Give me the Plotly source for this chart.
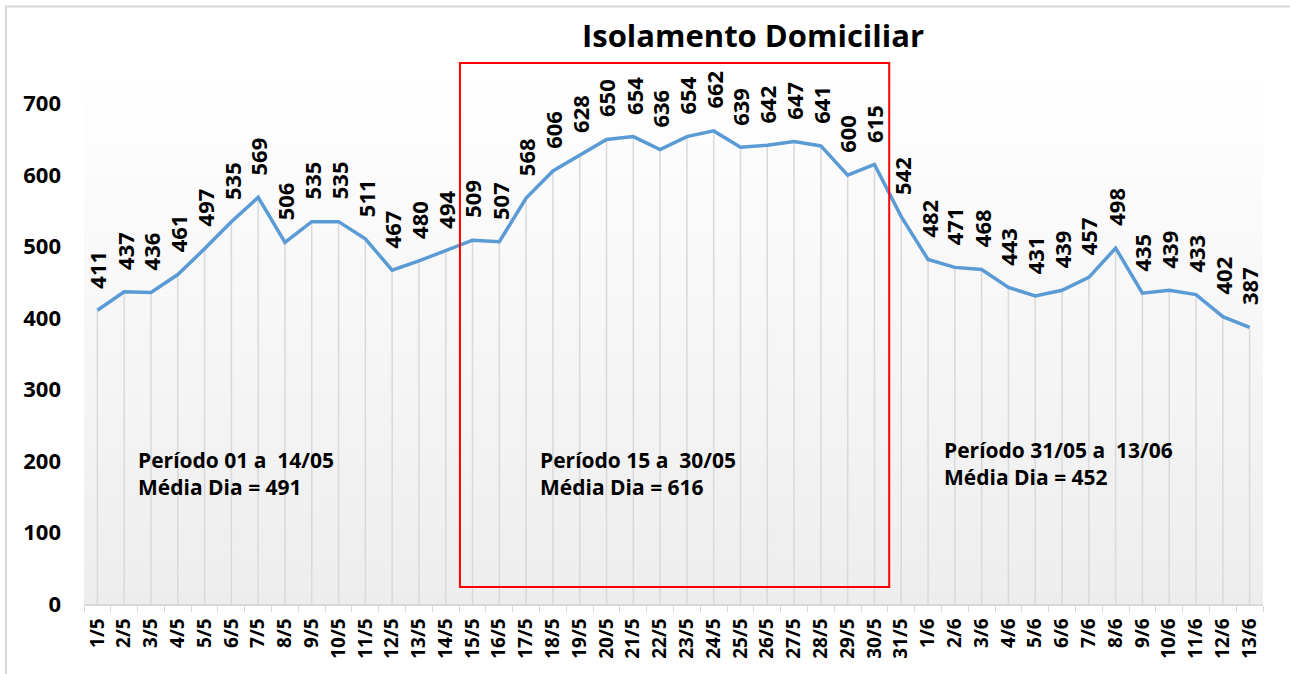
import plotly.graph_objects as go

categories = [f"{d}/5" for d in range(1, 32)] + [f"{d}/6" for d in range(1, 14)]
values = [411, 437, 436, 461, 497, 535, 569, 506, 535, 535, 511, 467, 480, 494,
          509, 507, 568, 606, 628, 650, 654, 636, 654, 662, 639, 642, 647, 641, 600, 615,
          542, 482, 471, 468, 443, 431, 439, 457, 498, 435, 439, 433, 402, 387]
y_ticks = [0, 100, 200, 300, 400, 500, 600, 700]
period_texts = [
    "Período 01 a  14/05<br>Média Dia = 491",
    "Período 15 a  30/05<br>Média Dia = 616",
    "Período 31/05 a  13/06<br>Média Dia = 452",
]

FONT = "Open Sans"
W, H = 1290, 674
PL, PR, PT, PB = 84, 1263, 68, 604
L, T = PL, PT
R = W - PR
B = H - PB
PW = PR - PL
PH = PB - PT


def px_x(x):
    return (x - PL) / PW


def px_y(y):
    return (PB - y) / PH


fig = go.Figure()
fig.add_trace(go.Scatter(
    x=categories, y=values, mode="lines",
    line=dict(color="#5b9bd5", width=3.5),
    error_y=dict(type="data", symmetric=False, array=[0] * len(values),
                 arrayminus=values, color="#d9d9d9", thickness=1.5, width=0),
    hoverinfo="x+y", showlegend=False,
))

shapes = []
n = 40
for i in range(n):
    c = int(round(255 - (255 - 237) * (1 - (i + 0.5) / n)))
    shapes.append(dict(type="rect", xref="paper", yref="paper", x0=0, x1=1,
                       y0=i / n, y1=(i + 1) / n, fillcolor=f"rgb({c},{c},{c})",
                       line=dict(width=0), layer="below"))
shapes.append(dict(type="rect", xref="x", yref="paper", x0=13.53, x1=29.55,
                   y0=px_y(587), y1=px_y(63),
                   line=dict(color="#ff0000", width=2), fillcolor="rgba(0,0,0,0)"))
# chart outer border (top and left edges visible)
shapes.append(dict(type="line", xref="paper", yref="paper",
                   x0=px_x(5), x1=px_x(1300), y0=px_y(6.5), y1=px_y(6.5),
                   line=dict(color="#d9d9d9", width=2)))
shapes.append(dict(type="line", xref="paper", yref="paper",
                   x0=px_x(6), x1=px_x(6), y0=px_y(6), y1=px_y(700),
                   line=dict(color="#d9d9d9", width=2)))

annotations = []
for c, v in zip(categories, values):
    annotations.append(dict(x=c, y=v, xref="x", yref="y", text=str(v), textangle=-90,
                            showarrow=False, xanchor="center", yanchor="bottom", yshift=20,
                            font=dict(family=FONT, size=22, color="#000000", weight="bold")))

text_pos = [(136, 444), (538, 444), (942, 434)]
for (px, py), txt in zip(text_pos, period_texts):
    annotations.append(dict(x=px_x(px), y=px_y(py), xref="paper", yref="paper",
                            text=txt, showarrow=False, xanchor="left", yanchor="top", align="left",
                            font=dict(family=FONT, size=21, color="#000000", weight="bold")))

fig.update_layout(
    width=W, height=H,
    margin=dict(l=L, r=R, t=T, b=B, autoexpand=False),
    paper_bgcolor="#ffffff", plot_bgcolor="#ffffff",
    title=dict(text="<b>Isolamento Domiciliar</b>", x=753 / W, xanchor="center",
               y=1 - 36 / H, yanchor="middle",
               font=dict(family=FONT, size=31, color="#000000")),
    shapes=shapes, annotations=annotations,
    xaxis=dict(type="category", range=[-0.5, len(categories) - 0.5], automargin=False,
               showgrid=False, showline=True, linecolor="#d9d9d9", linewidth=1.5,
               ticks="outside", tickson="boundaries", ticklen=6, tickcolor="#d9d9d9",
               tickangle=-90, ticklabelstandoff=5,
               tickfont=dict(family=FONT, size=19, color="#000000", weight="bold")),
    yaxis=dict(range=[0, 750], tickvals=y_ticks, showgrid=False, zeroline=False,
               automargin=False, showline=False, ticks="", ticklabelstandoff=22,
               tickfont=dict(family=FONT, size=22, color="#000000", weight="bold")),
)

fig.write_html("out.html", config={"displayModeBar": False},
               post_script="document.body.style.margin='0px';document.body.style.overflow='hidden';")
